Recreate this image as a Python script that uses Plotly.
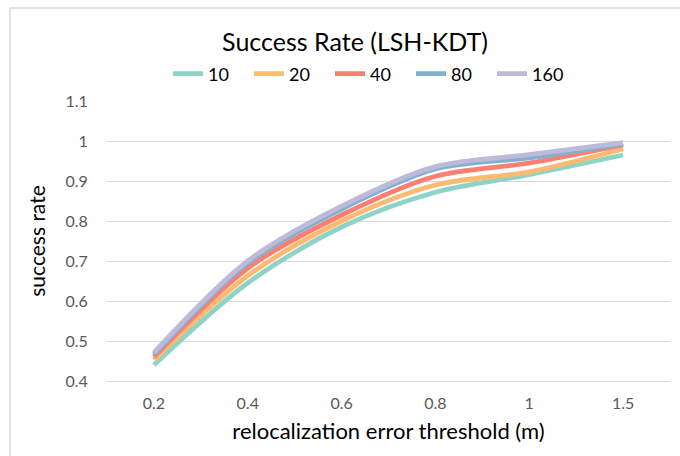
import plotly.graph_objects as go

thresholds = ["0.2", "0.4", "0.6", "0.8", "1", "1.5"]
series_names = ["10", "20", "40", "80", "160"]
s10 = [0.440, 0.645, 0.785, 0.872, 0.916, 0.965]
s20 = [0.453, 0.663, 0.800, 0.890, 0.923, 0.980]
s40 = [0.460, 0.682, 0.815, 0.912, 0.945, 0.990]
s80 = [0.466, 0.695, 0.830, 0.930, 0.958, 0.993]
s160 = [0.471, 0.700, 0.837, 0.936, 0.966, 0.996]
series_values = [s10, s20, s40, s80, s160]
colors = ["#8ED3C7", "#FDBB72", "#FB8072", "#80B1D3", "#BEBADA"]
y_ticks = [0.4, 0.5, 0.6, 0.7, 0.8, 0.9, 1.0, 1.1]
y_tick_text = ["0.4", "0.5", "0.6", "0.7", "0.8", "0.9", "1", "1.1"]

FONT = "Lato, Carlito, Calibri, sans-serif"

fig = go.Figure()
for name, vals, c in zip(series_names, series_values, colors):
    fig.add_trace(go.Scatter(
        x=thresholds, y=vals, name=name, mode="lines",
        line=dict(color=c, width=4.8, shape="spline", smoothing=0.9),
    ))

W, H = 680, 456
ml, mr, mt, mb = 107, 10, 101, 75
pw, ph = W - ml - mr, H - mt - mb

bx = (10 - ml) / pw
by = 1 + (mt - 8) / ph

fig.update_layout(
    width=W, height=H,
    margin=dict(l=ml, r=mr, t=mt, b=mb, autoexpand=False),
    paper_bgcolor="white", plot_bgcolor="white",
    font=dict(family=FONT, color="#595959"),
    title=dict(text="Success Rate (LSH-KDT)", x=355 / W, xanchor="center",
               y=1 - 42 / H, yanchor="middle",
               font=dict(size=25, color="#000000", family=FONT)),
    legend=dict(orientation="h", x=(168 - ml) / pw, xref="paper", xanchor="left",
                y=1 + (mt - 74) / ph, yanchor="middle",
                font=dict(size=18, color="#000000", family=FONT),
                entrywidth=36, entrywidthmode="pixels",
                bgcolor="rgba(0,0,0,0)"),
    showlegend=True,
    xaxis=dict(type="category", range=[-0.5, 5.5], showgrid=False,
               showline=True, linecolor="#D9D9D9", linewidth=1,
               ticks="outside", ticklen=8, tickcolor="rgba(0,0,0,0)",
               tickfont=dict(size=16, color="#595959"),
               title=dict(text="relocalization error threshold (m)",
                          font=dict(size=22, color="#000000"), standoff=12)),
    yaxis=dict(range=[0.4, 1.1], tickvals=y_ticks, ticktext=y_tick_text,
               showgrid=True, gridcolor="#D9D9D9", gridwidth=1,
               zeroline=False, showline=False,
               ticks="outside", ticklen=15, tickcolor="rgba(0,0,0,0)",
               tickfont=dict(size=16, color="#595959"),
               title=dict(text="success rate",
                          font=dict(size=21, color="#000000"), standoff=14)),
    shapes=[
        dict(type="line", xref="paper", yref="paper", x0=bx, x1=1.2, y0=by, y1=by,
             line=dict(color="#D9D9D9", width=1.5)),
        dict(type="line", xref="paper", yref="paper", x0=bx, x1=bx, y0=-0.5, y1=by,
             line=dict(color="#D9D9D9", width=1.5)),
    ],
)

fig.write_html("out.html")
